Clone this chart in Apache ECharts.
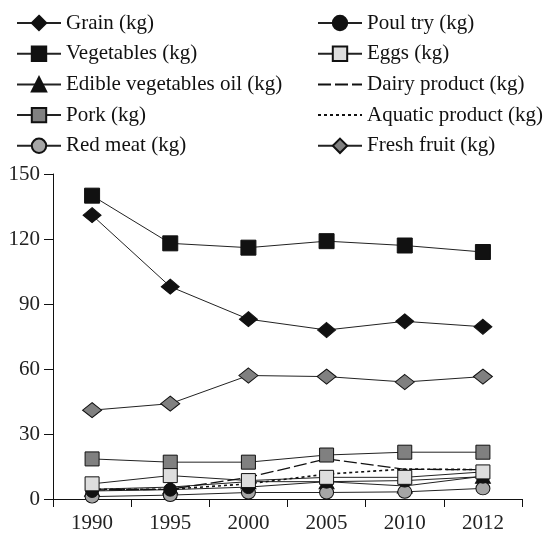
<!DOCTYPE html>
<html>
<head>
<meta charset="utf-8">
<script src="https://cdn.jsdelivr.net/npm/echarts@6/dist/echarts.min.js"></script>
<style>
html,body{margin:0;padding:0;background:#fff;}
#chart{width:544px;height:535px;}
</style>
</head>
<body>
<div id="chart"></div>
<script>
const years = ['1990', '1995', '2000', '2005', '2010', '2012'];
const yTicks = [0, 30, 60, 90, 120, 150];

const grain = [131, 98, 83, 78, 82, 79.5];
const vegetables = [140, 118, 116, 119, 117, 114];
const edibleOil = [4.5, 5.5, 8, 8, 6, 10.5];
const pork = [18.5, 17, 17, 20.3, 21.6, 21.6];
const redMeat = [1.1, 1.8, 3, 3, 3.3, 4.9];
const poultry = [3.7, 4.3, 5.5, 8, 8.5, 10.3];
const eggs = [7, 10.8, 8.5, 10, 10, 12.5];
const dairy = [4.2, 4.5, 10, 18.5, 13.7, 13.5];
const aquatic = [4.5, 4.5, 7, 11.5, 13.8, 13.6];
const freshFruit = [41, 44, 57, 56.5, 54, 56.5];

const FONT = 'Liberation Serif';
const lineBase = {color: '#222', width: 1};

function mk(name, data, symbol, size, fill, extra) {
  return Object.assign({
    name: name,
    type: 'line',
    data: data,
    symbol: symbol,
    symbolSize: size,
    showSymbol: true,
    itemStyle: {color: fill, borderColor: '#111', borderWidth: 1},
    lineStyle: Object.assign({}, lineBase),
    emphasis: {disabled: true},
    animation: false
  }, extra || {});
}

const hidden = {color: 'rgba(0,0,0,0)', borderColor: 'rgba(0,0,0,0)', borderWidth: 0};

const series = [
  mk('Grain (kg)', grain, 'diamond', [18, 15], '#111'),
  mk('Vegetables (kg)', vegetables, 'rect', [15, 15], '#111'),
  mk('Edible vegetables oil (kg)', edibleOil, 'triangle', [15, 14], '#111'),
  mk('Pork (kg)', pork, 'rect', [14, 14], '#808080'),
  mk('Red meat (kg)', redMeat, 'circle', [14, 13], '#a6a6a6'),
  mk('Poul try (kg)', poultry, 'circle', [13, 13], '#111'),
  mk('Eggs (kg)', eggs, 'rect', [14, 14], '#dedede'),
  mk('Dairy product (kg)', dairy, 'circle', 1, '#111', {showSymbol: false, itemStyle: hidden, lineStyle: {color: '#111', width: 1.3, type: [13, 4]}}),
  mk('Aquatic product (kg)', aquatic, 'circle', 1, '#111', {showSymbol: false, itemStyle: hidden, lineStyle: {color: '#111', width: 1.6, type: [3, 3]}}),
  mk('Fresh fruit (kg)', freshFruit, 'diamond', [19, 15], '#808080')
];

const names = series.map(s => s.name);

const legendCommon = {
  orient: 'vertical',
  itemWidth: 44,
  itemHeight: 18,
  itemGap: 8.7,
  textStyle: {fontFamily: FONT, fontSize: 21, color: '#111', lineHeight: 22},
  selectedMode: false
};

const chart = echarts.init(document.getElementById('chart'), null, {renderer: 'canvas'});
chart.setOption({
  backgroundColor: '#fff',
  animation: false,
  legend: [
    Object.assign({left: 11, top: 7, data: names.slice(0, 5)}, legendCommon),
    Object.assign({left: 312, top: 7, data: names.slice(5)}, legendCommon)
  ],
  grid: {left: 53, right: 22, top: 174, bottom: 36, containLabel: false},
  xAxis: {
    type: 'category',
    data: years,
    boundaryGap: true,
    axisLine: {lineStyle: {color: '#111', width: 1}},
    axisTick: {show: true, length: 8, lineStyle: {color: '#111'}, alignWithLabel: false},
    axisLabel: {fontFamily: FONT, fontSize: 21, color: '#222', margin: 14}
  },
  yAxis: {
    type: 'value',
    min: yTicks[0],
    max: yTicks[yTicks.length - 1],
    interval: 30,
    splitLine: {show: false},
    axisLine: {show: true, lineStyle: {color: '#111', width: 1}},
    axisTick: {show: true, length: 9, lineStyle: {color: '#111'}},
    axisLabel: {fontFamily: FONT, fontSize: 21, color: '#222', margin: 13}
  },
  series: series
});
</script>
</body>
</html>
